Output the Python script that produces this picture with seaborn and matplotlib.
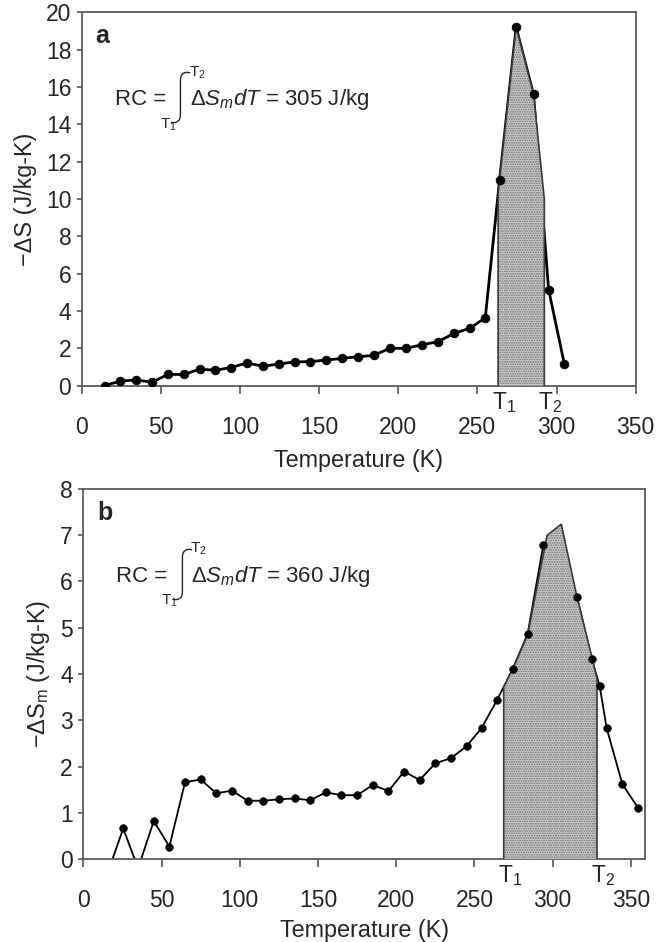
import matplotlib
matplotlib.use("Agg")
import matplotlib.pyplot as plt
from matplotlib import font_manager
import seaborn as sns

# panel a: -dS (J/kg-K) against temperature (K)
temp_a = [14.5, 24.5, 34.5, 44.5, 54.5, 64.5, 74.5, 84.5, 94.5, 104.5,
          114.5, 124.5, 134.5, 144.5, 154.5, 164.5, 174.5, 184.5, 194.5, 205,
          215, 225, 235.5, 245.5, 255, 264, 274.5, 285.5, 295, 305]
ds_a = [0.0, 0.25, 0.30, 0.19, 0.60, 0.60, 0.88, 0.83, 0.97, 1.22,
        1.04, 1.16, 1.27, 1.29, 1.37, 1.46, 1.55, 1.62, 2.0, 2.0,
        2.19, 2.35, 2.81, 3.08, 3.64, 11.0, 19.2, 15.6, 5.15, 1.14]
# shaded RC area between T1 and T2
shade_t_a = [263.1, 264.0, 274.5, 285.5, 292.3]
shade_v_a = [10.3, 11.0, 19.2, 15.6, 10.0]

# panel b: -dSm (J/kg-K) against temperature (K)
temp_b = [15, 25.5, 35, 45, 55, 65, 75, 85, 95, 105,
          115, 125, 135, 145, 155, 165, 175, 185, 195, 205,
          215, 225, 235, 245, 254.5, 264.5, 274.5, 284, 294, 315.5,
          325, 330, 334.5, 344.5, 354.5]
ds_b = [-0.35, 0.66, -0.2, 0.82, 0.27, 1.66, 1.72, 1.42, 1.48, 1.26,
        1.26, 1.29, 1.31, 1.27, 1.44, 1.38, 1.38, 1.60, 1.47, 1.89,
        1.71, 2.07, 2.18, 2.44, 2.83, 3.44, 4.11, 4.87, 6.79, 5.67,
        4.32, 3.74, 2.83, 1.62, 1.11]
shade_t_b = [268.7, 274.5, 284, 296.4, 305.5, 315.5, 325, 328.3]
shade_v_b = [3.72, 4.11, 4.85, 7.0, 7.24, 5.67, 4.37, 3.9]

rc_a = "305 J/kg"
rc_b = "360 J/kg"

sns.set_theme(style="ticks")
plt.rcParams["font.family"] = ["Liberation Sans", "DejaVu Sans"]
plt.rcParams["mathtext.fontset"] = "custom"
plt.rcParams["mathtext.rm"] = "Liberation Sans"
plt.rcParams["mathtext.it"] = "Liberation Sans:italic"
plt.rcParams["mathtext.bf"] = "Liberation Sans:bold"
plt.rcParams["hatch.linewidth"] = 0.9

# tick digits in the figure look narrow
names = {f.name for f in font_manager.fontManager.ttflist}
if "Liberation Sans Narrow" in names:
    tick_font, tick_size = "Liberation Sans Narrow", 18
else:
    tick_font, tick_size = "Liberation Sans", 16.5


def put(ax, txt, dx, dy, **kw):
    # text placed in pixels from the top-left corner of the axes
    return ax.annotate(txt, xy=(0, 1), xycoords="axes fraction",
                       xytext=(dx, -dy), textcoords="offset pixels", **kw)


def draw_panel(ax, temp, ds, shade_t, shade_v, lw, ms, letter, rc, ylabel, xlabelpad):
    sns.lineplot(x=temp, y=ds, ax=ax, color="black", lw=lw, zorder=2)
    ax.fill_between(shade_t, 0, shade_v, facecolor="#d2d2d2", edgecolor="#6a6a6a",
                    hatch=".......", linewidth=0, zorder=3)
    ax.plot([shade_t[0]] + shade_t + [shade_t[-1]], [0] + shade_v + [0],
            color="#3a3a3a", lw=1.2, zorder=3.5)
    sns.scatterplot(x=temp, y=ds, ax=ax, color="black", s=ms, edgecolor="black",
                    linewidth=0.5, zorder=4)

    for s in ax.spines.values():
        s.set_color("#5a5a5a")
        s.set_linewidth(1.3)
    ax.tick_params(axis="x", direction="out", length=5.8, width=1.2, color="#555555",
                   pad=16, labelsize=tick_size, labelfontfamily=tick_font)
    ax.tick_params(axis="y", direction="out", length=3.5, width=1.2, color="#555555",
                   pad=4, labelsize=tick_size, labelfontfamily=tick_font)
    ax.set_xticks(range(0, 351, 50))
    ax.set_xlabel("Temperature (K)", fontsize=16.8, labelpad=xlabelpad)
    ax.set_ylabel(ylabel, fontsize=16.8, labelpad=6)

    # T1 / T2 marks under the axis
    for name, t in (("T$_1$", shade_t[0]), ("T$_2$", shade_t[-1])):
        ax.annotate(name, xy=(t, 0), xycoords=("data", "axes fraction"),
                    xytext=(-6, -4), textcoords="offset pixels",
                    ha="left", va="top", fontsize=tick_size, family=tick_font)

    put(ax, letter, 14, 31, fontsize=18, fontweight="bold", va="baseline")
    put(ax, "RC =", 33, 93, fontsize=16, va="baseline")
    put(ax, "\u222b", 99, 85, fontsize=38, family=["Roboto", "DejaVu Sans"],
        fontweight="light", ha="center", va="center")
    put(ax, "T$_2$", 107, 64, fontsize=11, va="baseline")
    put(ax, "T$_1$", 78, 116, fontsize=11, va="baseline")
    put(ax, r"$\Delta\mathit{S_m dT}$ = " + rc, 108, 93, fontsize=16, va="baseline")


fig = plt.figure(figsize=(6.64, 9.42), dpi=100)
ax_a = fig.add_axes([0.1230, 0.5906, 0.8343, 0.3963])
ax_b = fig.add_axes([0.1255, 0.0881, 0.8459, 0.3928])

draw_panel(ax_a, temp_a, ds_a, shade_t_a, shade_v_a, 2.0, 40, "a", rc_a,
           "\u2212\u0394S (J/kg-K)", 7)
ax_a.set_xlim(0, 350)
ax_a.set_ylim(0, 20)
ax_a.set_yticks(range(0, 21, 2))

draw_panel(ax_b, temp_b, ds_b, shade_t_b, shade_v_b, 1.3, 30, "b", rc_b,
           "\u2212\u0394S$_\\mathrm{m}$ (J/kg-K)", 5)
ax_b.set_xlim(0, 359)
ax_b.set_ylim(0, 8)
ax_b.set_yticks(range(0, 9))

fig.savefig("out.png", dpi=100)
